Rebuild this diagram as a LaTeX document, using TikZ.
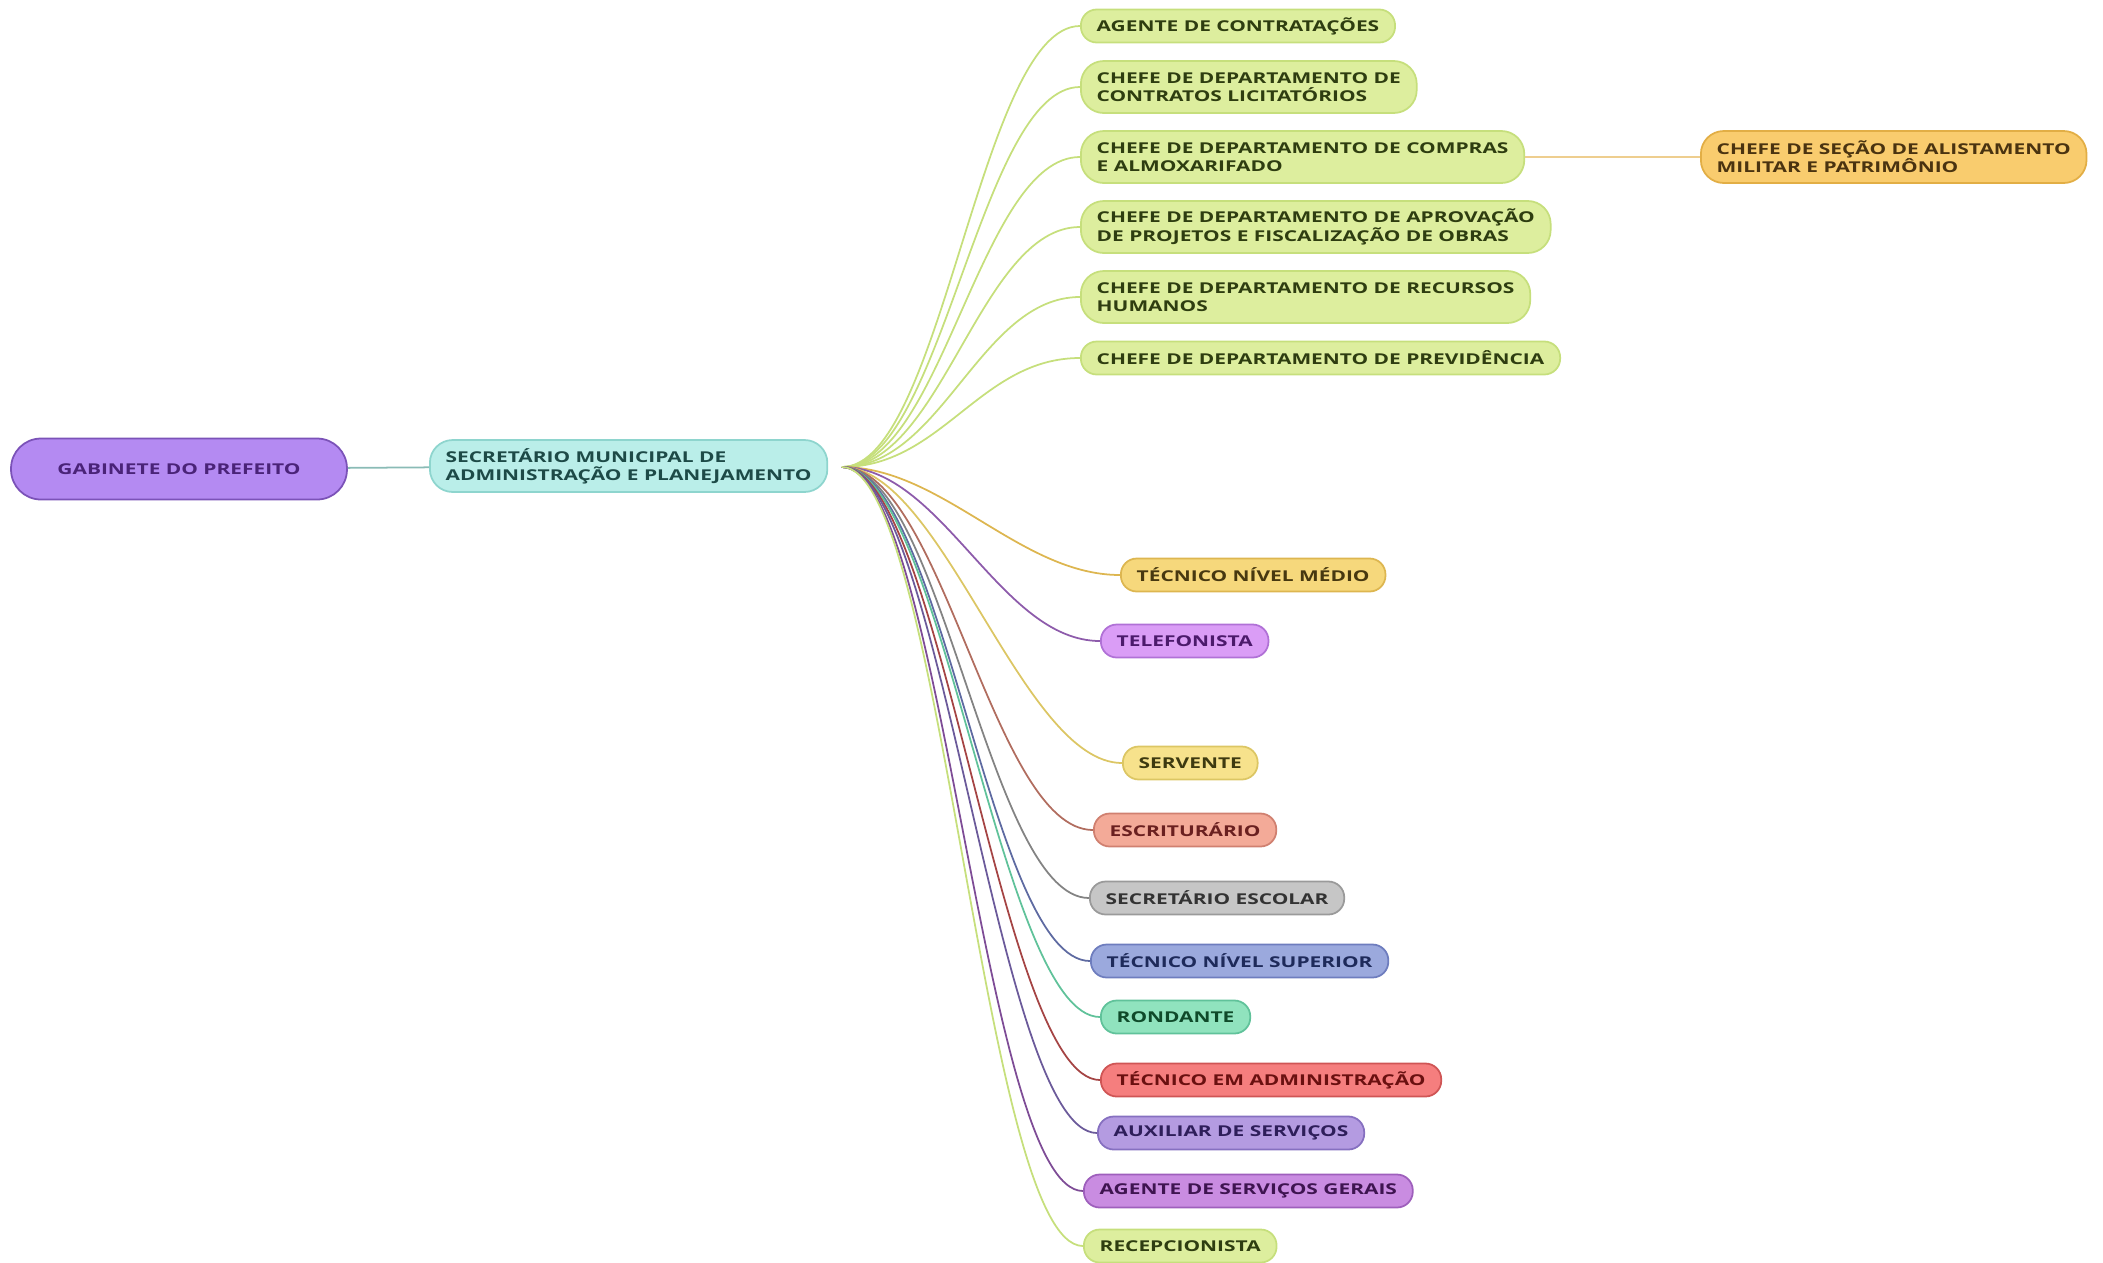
\documentclass[tikz,border=0pt]{standalone}
\usepackage{fontspec}
\newfontfamily\mapfont[FakeStretch=1.4]{Open Sans}

% node colours
\definecolor{gabfill}{HTML}{B48AF2}\definecolor{gabdraw}{HTML}{7B52B8}\definecolor{gabtext}{HTML}{4A2378}
\definecolor{secfill}{HTML}{BAEEE9}\definecolor{secdraw}{HTML}{8ED5CE}\definecolor{sectext}{HTML}{1D4A47}
\definecolor{limefill}{HTML}{DDEE9E}\definecolor{limedraw}{HTML}{C6DF7C}\definecolor{limetext}{HTML}{2E3D10}
\definecolor{orangefill}{HTML}{F9CC6E}\definecolor{orangedraw}{HTML}{E2AE45}\definecolor{orangetext}{HTML}{4A3310}
\definecolor{goldfill}{HTML}{F6D87C}\definecolor{golddraw}{HTML}{DDB650}\definecolor{goldtext}{HTML}{473810}
\definecolor{lilacfill}{HTML}{DA9DF6}\definecolor{lilacdraw}{HTML}{B071D6}\definecolor{lilactext}{HTML}{4B1A6B}
\definecolor{sandfill}{HTML}{F7E28C}\definecolor{sanddraw}{HTML}{DCC664}\definecolor{sandtext}{HTML}{3E3A10}
\definecolor{salmonfill}{HTML}{F3AA98}\definecolor{salmondraw}{HTML}{D08070}\definecolor{salmontext}{HTML}{6A2020}
\definecolor{greyfill}{HTML}{C6C6C6}\definecolor{greydraw}{HTML}{9A9A9A}\definecolor{greytext}{HTML}{333333}
\definecolor{bluefill}{HTML}{9BA9DD}\definecolor{bluedraw}{HTML}{6E7DBE}\definecolor{bluetext}{HTML}{1E2A5A}
\definecolor{mintfill}{HTML}{90E3BE}\definecolor{mintdraw}{HTML}{60C29A}\definecolor{minttext}{HTML}{0F4A2A}
\definecolor{redfill}{HTML}{F57E7E}\definecolor{reddraw}{HTML}{CF5555}\definecolor{redtext}{HTML}{6A1010}
\definecolor{violetfill}{HTML}{B49BE1}\definecolor{violetdraw}{HTML}{8670C0}\definecolor{violettext}{HTML}{2E1E5A}
\definecolor{purplefill}{HTML}{C98CE1}\definecolor{purpledraw}{HTML}{9E5FBC}\definecolor{purpletext}{HTML}{3E1450}

\begin{document}
\begin{tikzpicture}[
	x=0.02cm, y=-0.02cm,
	box/.style={rectangle, rounded corners=9pt, line width=1pt, anchor=west, align=left,
		font=\mapfont\bfseries\fontsize{8.5}{10.4}\selectfont,
		inner xsep=9pt, inner ysep=3pt, minimum height=0.66cm},
	twoline/.style={minimum height=1.04cm, rounded corners=13pt},
	tint/.style={fill=#1fill, draw=#1draw, text=#1text},
	link/.style={line width=1pt}
	]
	
	\useasboundingbox (0,0) rectangle (2103,1262);
	
	% --- ROOT ---
	\node[box, tint=gab, anchor=center, align=center, minimum width=6.72cm, minimum height=1.22cm,
		rounded corners=17pt] (gab) at (179,469) {GABINETE DO PREFEITO};
	\node[box, tint=sec, twoline] (sec) at (429,466) {SECRETÁRIO MUNICIPAL DE\\ADMINISTRAÇÃO E PLANEJAMENTO};
	\draw[link, secdraw!70!gray] (gab) -- (sec);
	\coordinate (hub) at (842,467);
	
	% --- CHEFIAS ---
	\node[box, tint=lime] (agente) at (1080,26) {AGENTE DE CONTRATAÇÕES};
	\node[box, tint=lime, twoline] (contratos) at (1080,87) {CHEFE DE DEPARTAMENTO DE\\CONTRATOS LICITATÓRIOS};
	\node[box, tint=lime, twoline] (compras) at (1080,157) {CHEFE DE DEPARTAMENTO DE COMPRAS\\E ALMOXARIFADO};
	\node[box, tint=lime, twoline] (aprovacao) at (1080,227) {CHEFE DE DEPARTAMENTO DE APROVAÇÃO\\DE PROJETOS E FISCALIZAÇÃO DE OBRAS};
	\node[box, tint=lime, twoline] (rh) at (1080,297) {CHEFE DE DEPARTAMENTO DE RECURSOS\\HUMANOS};
	\node[box, tint=lime] (previdencia) at (1080,358) {CHEFE DE DEPARTAMENTO DE PREVIDÊNCIA};
	\node[box, tint=orange, twoline] (secao) at (1700,157) {CHEFE DE SEÇÃO DE ALISTAMENTO\\MILITAR E PATRIMÔNIO};
	\draw[link, orangedraw!60!white] (compras) -- (secao);
	
	% --- CARGOS ---
	\node[box, tint=gold] (medio) at (1120,575) {TÉCNICO NÍVEL MÉDIO};
	\node[box, tint=lilac] (telefonista) at (1100,641) {TELEFONISTA};
	\node[box, tint=sand] (servente) at (1122,763) {SERVENTE};
	\node[box, tint=salmon] (escriturario) at (1093,830) {ESCRITURÁRIO};
	\node[box, tint=grey] (escolar) at (1089,898) {SECRETÁRIO ESCOLAR};
	\node[box, tint=blue] (superior) at (1090,961) {TÉCNICO NÍVEL SUPERIOR};
	\node[box, tint=mint] (rondante) at (1100,1017) {RONDANTE};
	\node[box, tint=red] (tecadm) at (1100,1080) {TÉCNICO EM ADMINISTRAÇÃO};
	\node[box, tint=violet] (auxiliar) at (1097,1133) {AUXILIAR DE SERVIÇOS};
	\node[box, tint=purple] (geral) at (1083,1191) {AGENTE DE SERVIÇOS GERAIS};
	\node[box, tint=lime] (recepcao) at (1083,1246) {RECEPCIONISTA};
	
	% --- LIGAÇÕES ---
	\foreach \n/\c in {agente/limedraw, contratos/limedraw, compras/limedraw, aprovacao/limedraw,
		rh/limedraw, previdencia/limedraw, medio/golddraw, telefonista/lilacdraw!80!black,
		servente/sanddraw, escriturario/salmondraw!85!black, escolar/greydraw!85!black,
		superior/bluedraw!85!black, rondante/mintdraw, tecadm/reddraw!80!black,
		auxiliar/violetdraw!80!black, geral/purpledraw!80!black, recepcao/limedraw}
		\draw[link, \c] (hub) .. controls +(100,0) and +(-100,0) .. (\n.west);
	
\end{tikzpicture}
\end{document}
